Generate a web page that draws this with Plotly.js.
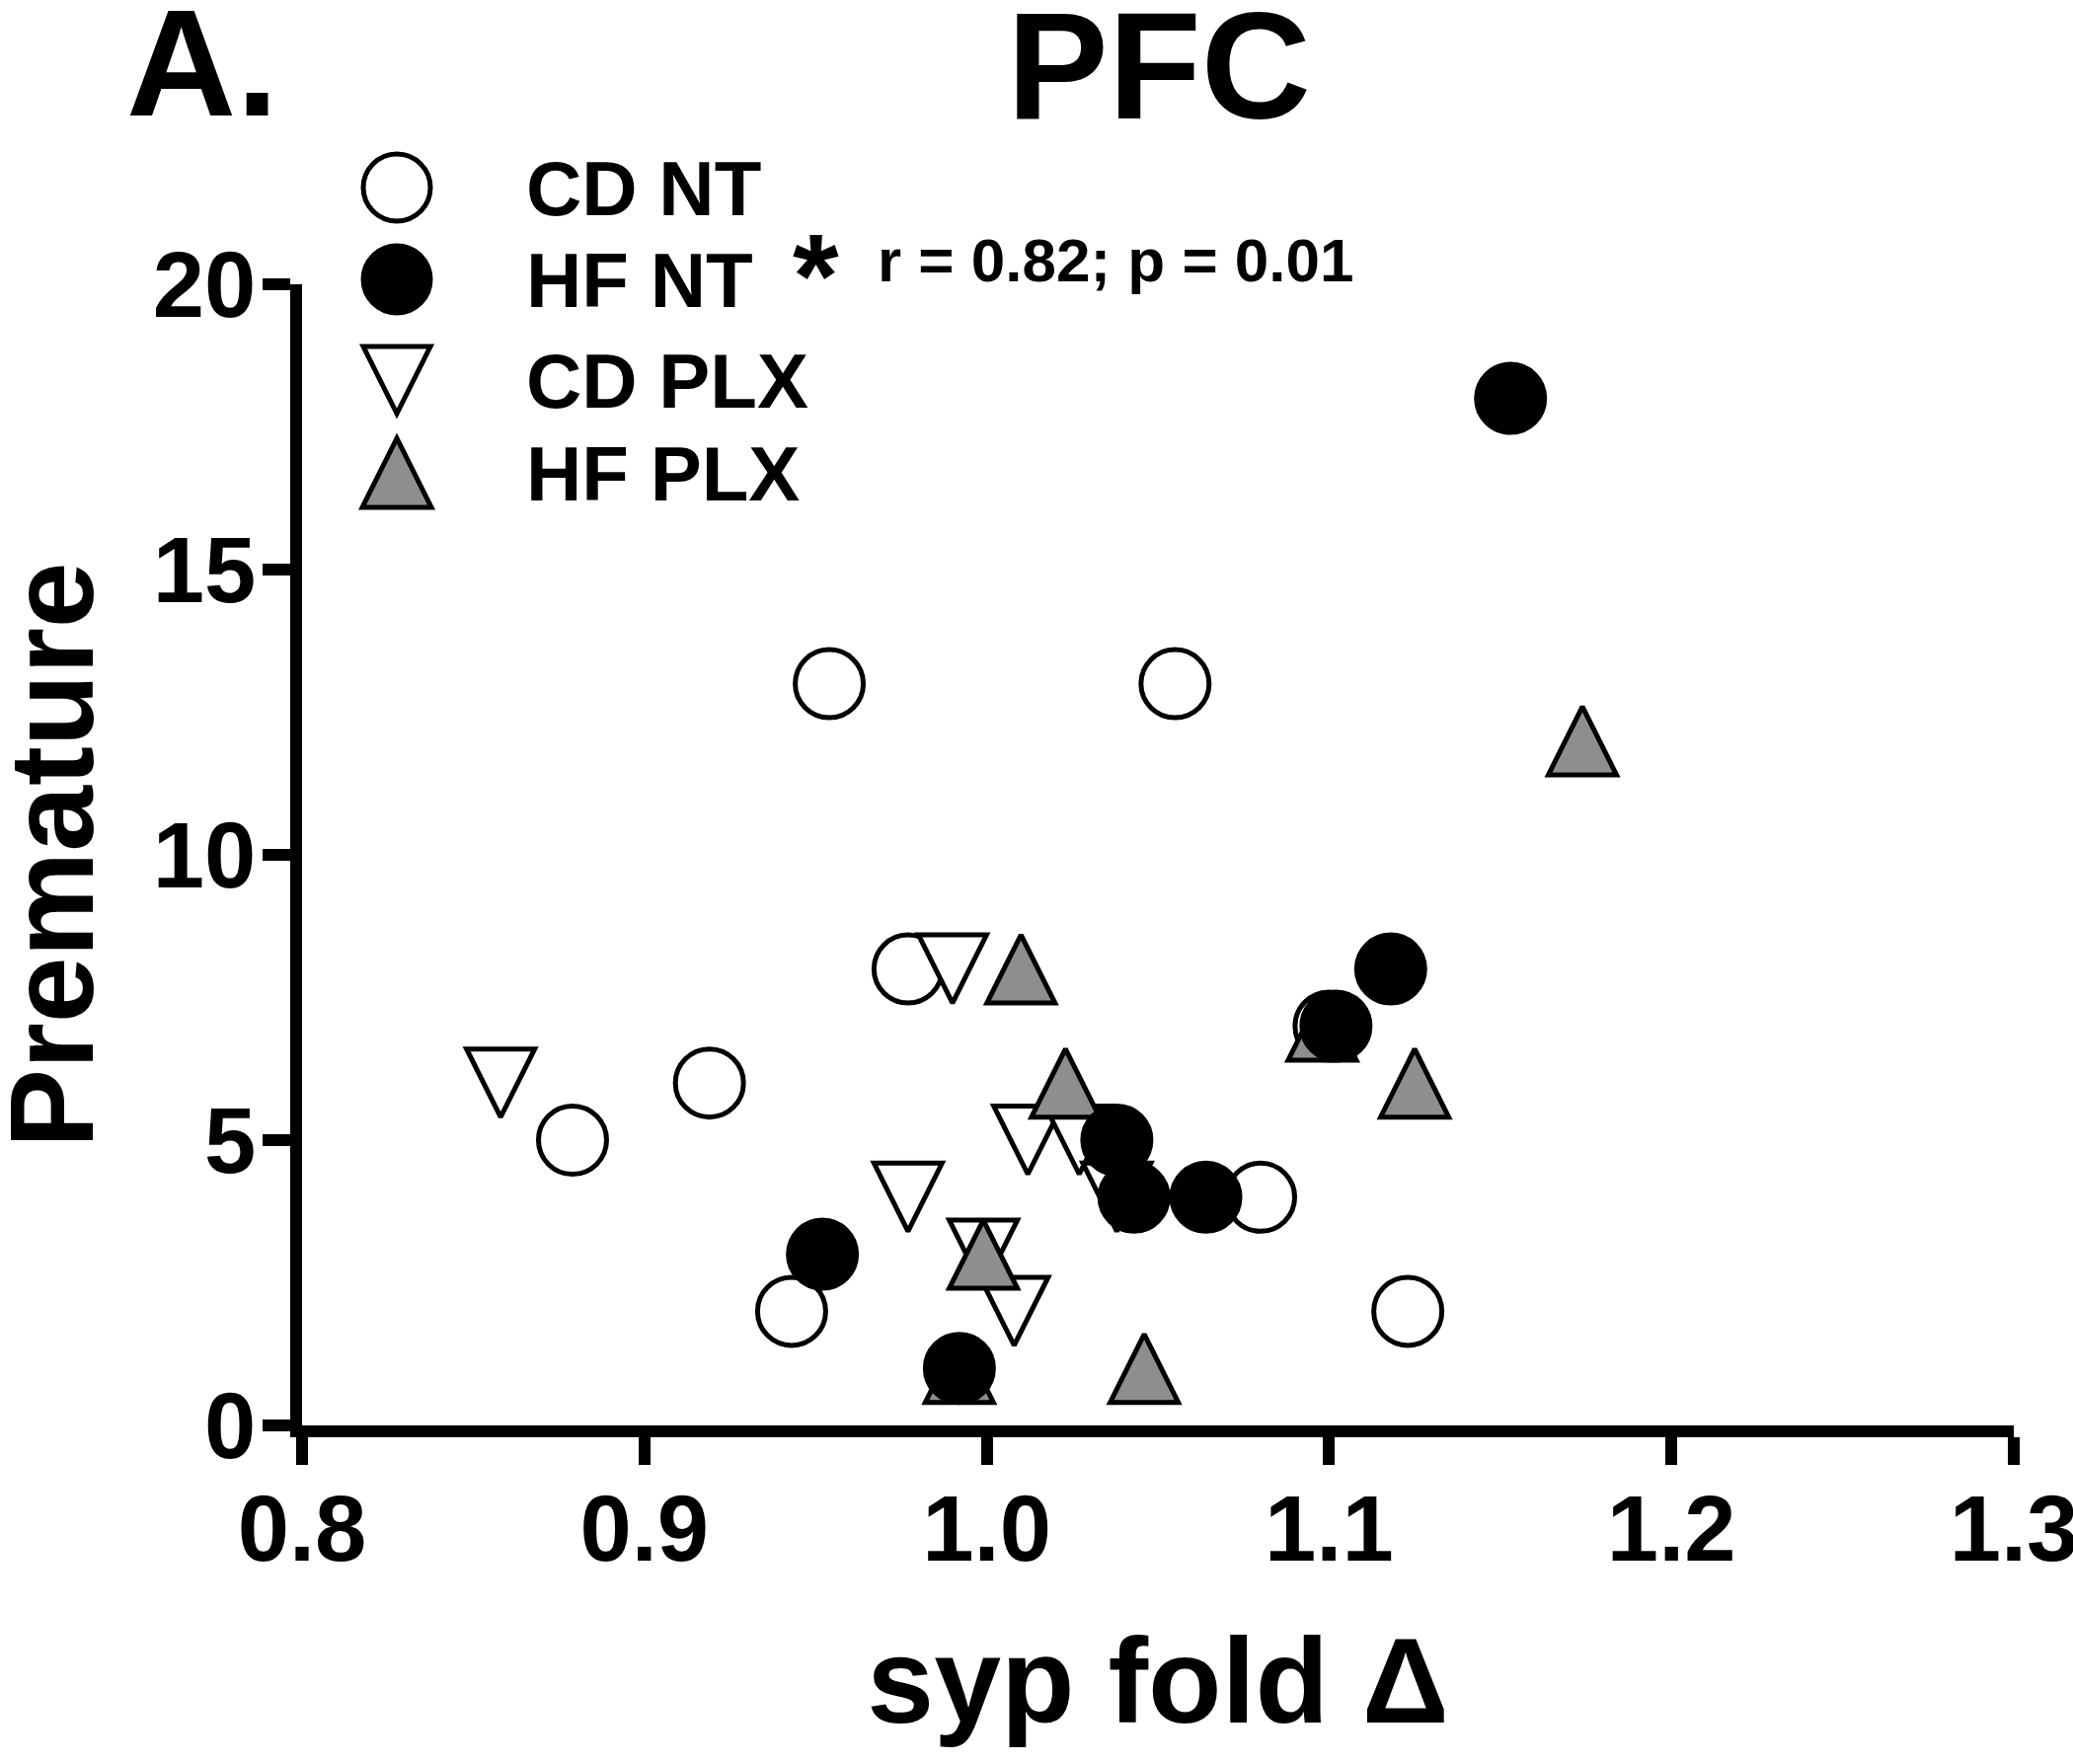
<!DOCTYPE html>
<html><head><meta charset="utf-8">
<script src="https://cdn.plot.ly/plotly-3.0.1.min.js"></script>
<style>html,body{margin:0;padding:0;background:#fff;}</style>
</head><body>
<div id="chart" style="width:2100px;height:1787px;"></div>
<script>
// ---------------- data ----------------
const groupNames = ['CD NT', 'HF NT', 'CD PLX', 'HF PLX'];
const cdNtX  = [0.879, 0.919, 0.943, 0.954, 0.977, 1.055, 1.080, 1.100, 1.123];
const cdNtY  = [5, 6, 2, 13, 8, 13, 4, 7, 2];
const hfNtX  = [0.952, 0.992, 1.038, 1.043, 1.064, 1.102, 1.118, 1.153];
const hfNtY  = [3, 1, 5, 4, 4, 7, 8, 18];
const cdPlxX = [0.858, 0.977, 0.990, 0.999, 1.008, 1.012, 1.027, 1.038];
const cdPlxY = [6, 4, 8, 3, 2, 5, 5, 4];
const hfPlxX = [0.992, 0.999, 1.010, 1.023, 1.046, 1.098, 1.125, 1.174];
const hfPlxY = [1, 3, 8, 6, 1, 7, 6, 12];
const xTickVals = [0.8, 0.9, 1.0, 1.1, 1.2, 1.3];
const xTickText = ['0.8', '0.9', '1.0', '1.1', '1.2', '1.3'];
const yTickVals = [0, 5, 10, 15, 20];
const yTickText = ['0', '5', '10', '15', '20'];
const statStar = '*';
const statText = 'r = 0.82; p = 0.01';
const panelLabel = 'A.';
const chartTitle = 'PFC';
const xTitle = 'syp fold \u0394';
const yTitle = 'Premature';

// ---------------- style ----------------
const FONT = 'Liberation Sans, Arial, Helvetica, sans-serif';
const W = 2100, H = 1787;
const M = {l: 306, r: 60, t: 288, b: 343};
const plotW = W - M.l - M.r, plotH = H - M.t - M.b;
const Y_RANGE = [0, 20];
const pxPerY = plotH / (Y_RANGE[1] - Y_RANGE[0]);
const CIRCLE_SIZE = 69, TRI_SIZE = 69, MLW = 5;
const GRAY = '#8e8e8e';
const triShift = (TRI_SIZE / 2) / pxPerY;   // centre arrow-shaped triangles on their value

const px2x = px => (px - M.l) / plotW;
const py2y = py => (H - M.b - py) / plotH;

const traces = [
  {name: groupNames[0], x: cdNtX, y: cdNtY, type: 'scatter', mode: 'markers', yaxis: 'y', cliponaxis: false,
   marker: {symbol: 'circle', size: CIRCLE_SIZE, color: '#ffffff', line: {color: '#000', width: MLW}}},
  {name: groupNames[2], x: cdPlxX, y: cdPlxY, type: 'scatter', mode: 'markers', yaxis: 'y2', cliponaxis: false,
   marker: {symbol: 'arrow-down', size: TRI_SIZE, color: '#ffffff', line: {color: '#000', width: MLW}}},
  {name: groupNames[3], x: hfPlxX, y: hfPlxY, type: 'scatter', mode: 'markers', yaxis: 'y3', cliponaxis: false,
   marker: {symbol: 'arrow-up', size: TRI_SIZE, color: GRAY, line: {color: '#000', width: MLW}}},
  {name: groupNames[1], x: hfNtX, y: hfNtY, type: 'scatter', mode: 'markers', yaxis: 'y4', cliponaxis: false,
   marker: {symbol: 'circle', size: CIRCLE_SIZE, color: '#000000', line: {color: '#000', width: MLW}}}
];

const hiddenY = r => ({overlaying: 'y', range: r, visible: false, showgrid: false, zeroline: false, fixedrange: true});

// legend keys (drawn as shapes so they can be as large as the reference)
const LEG_X = 402, LEG_R = 34;
const legRows = [190, 283, 385, 479];
const legText = [531, 531, 531, 531];
function triPath(cx, cy, half, up) {
  const top = cy - half, bot = cy + half;
  const pts = up ? [[cx, top], [cx + half, bot], [cx - half, bot]]
                 : [[cx - half, top], [cx + half, top], [cx, bot]];
  return 'M' + pts.map(p => px2x(p[0]) + ',' + py2y(p[1])).join('L') + 'Z';
}
const shapes = [
  {type: 'circle', xref: 'paper', yref: 'paper', x0: px2x(LEG_X - LEG_R), x1: px2x(LEG_X + LEG_R),
   y0: py2y(legRows[0] + LEG_R), y1: py2y(legRows[0] - LEG_R), fillcolor: '#fff', line: {color: '#000', width: MLW}},
  {type: 'circle', xref: 'paper', yref: 'paper', x0: px2x(LEG_X - LEG_R), x1: px2x(LEG_X + LEG_R),
   y0: py2y(legRows[1] + LEG_R), y1: py2y(legRows[1] - LEG_R), fillcolor: '#000', line: {color: '#000', width: MLW}},
  {type: 'path', xref: 'paper', yref: 'paper', path: triPath(LEG_X, legRows[2], 34, false),
   fillcolor: '#fff', line: {color: '#000', width: MLW}},
  {type: 'path', xref: 'paper', yref: 'paper', path: triPath(LEG_X, legRows[3], 35, true),
   fillcolor: GRAY, line: {color: '#000', width: MLW}}
];

const annFont = s => ({family: FONT, size: s, color: '#000', weight: 'bold'});
const annotations = [
  {text: panelLabel, xref: 'paper', yref: 'paper', x: px2x(126), y: py2y(64), xanchor: 'left', yanchor: 'middle',
   showarrow: false, font: annFont(154)},
  {text: statStar, xref: 'paper', yref: 'paper', x: px2x(826), y: py2y(279), xanchor: 'center', yanchor: 'middle',
   showarrow: false, font: annFont(120)},
  {text: statText, xref: 'paper', yref: 'paper', x: px2x(887), y: py2y(264), xanchor: 'left', yanchor: 'middle',
   showarrow: false, font: annFont(62)},
  // y-axis title (as a rotated annotation so it can sit as close to the edge as in the reference)
  {text: yTitle, xref: 'paper', yref: 'paper', x: px2x(52), y: 0.5, xanchor: 'center', yanchor: 'middle',
   textangle: -90, showarrow: false, font: annFont(120)}
].concat(groupNames.map((g, i) => ({
  text: g, xref: 'paper', yref: 'paper', x: px2x(legText[i]), y: py2y(legRows[i] + 1), xanchor: 'left', yanchor: 'middle',
  showarrow: false, font: annFont(78)
})));

const axisCommon = {
  showline: true, linecolor: '#000', linewidth: 12, ticks: 'outside', ticklen: 28, tickwidth: 12, tickcolor: '#000',
  showgrid: false, zeroline: false, fixedrange: true, ticklabeloverflow: 'allow',
  tickfont: {family: FONT, size: 94, color: '#000', weight: 'bold'}
};

const layout = {
  width: W, height: H, margin: M, paper_bgcolor: '#fff', plot_bgcolor: '#fff', showlegend: false,
  font: {family: FONT, color: '#000'},
  title: {text: chartTitle, x: 1174 / W, xref: 'container', xanchor: 'center', y: 1 - 12 / H, yref: 'container', yanchor: 'top',
          font: {family: FONT, size: 154, color: '#000', weight: 'bold'}},
  xaxis: Object.assign({}, axisCommon, {range: [0.8, 1.3], tickvals: xTickVals, ticktext: xTickText, ticklabelstandoff: -16,
          title: {text: xTitle, standoff: 65, font: {family: FONT, size: 122, color: '#000', weight: 'bold'}}}),
  yaxis: Object.assign({}, axisCommon, {range: Y_RANGE, tickvals: yTickVals, ticktext: yTickText, ticklabelstandoff: -12}),
  yaxis2: hiddenY([Y_RANGE[0] + triShift, Y_RANGE[1] + triShift]),
  yaxis3: hiddenY([Y_RANGE[0] - triShift, Y_RANGE[1] - triShift]),
  yaxis4: hiddenY(Y_RANGE.slice()),
  shapes: shapes,
  annotations: annotations
};

Plotly.newPlot('chart', traces, layout, {staticPlot: true, displayModeBar: false});
</script>
</body></html>
